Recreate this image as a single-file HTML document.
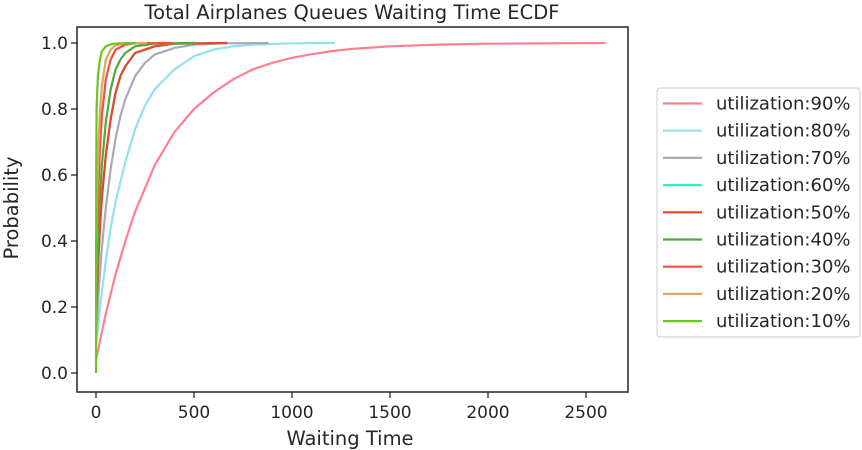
<!DOCTYPE html>
<html><head><meta charset="utf-8"><style>
body{margin:0;background:#fff}
svg{display:block;font-family:"DejaVu Sans","Liberation Sans",sans-serif}
</style></head><body>
<svg id="chart" width="862" height="450">
<rect x="0" y="0" width="862" height="450" fill="#fff"/>
<text x="352" y="19" font-size="19.5" text-anchor="middle" fill="#262626">Total Airplanes Queues Waiting Time ECDF</text>
<g id="axes"></g>
<g id="series"></g>
<rect x="77" y="27" width="551" height="365" fill="none" stroke="#262626" stroke-width="1.5"/>
<text x="350" y="445" font-size="19.5" text-anchor="middle" fill="#262626">Waiting Time</text>
<text x="0" y="0" font-size="19.5" text-anchor="middle" fill="#262626" transform="translate(18,208) rotate(-90)">Probability</text>
<rect x="657" y="88" width="203" height="249" rx="3" fill="#fff" stroke="#ccc" stroke-width="1"/>
<g id="legend"></g>
</svg>
<script>
const labels=["utilization:90%","utilization:80%","utilization:70%","utilization:60%","utilization:50%","utilization:40%","utilization:30%","utilization:20%","utilization:10%"];
const colors=["#ff7f91","#8ee3ef","#aba8b8","#3fe8c0","#e8452a","#52a83f","#f4503a","#dba95e","#6cc524"];
const x90=[0,50,100,150,200,250,300,400,500,600,700,800,900,1000,1100,1200,1300,1500,1750,2000,2600];
const y90=[0.04,0.18,0.30,0.40,0.49,0.56,0.63,0.73,0.80,0.85,0.89,0.92,0.94,0.955,0.966,0.975,0.982,0.99,0.995,0.998,1.0];
const x80=[0,25,50,75,100,150,200,250,300,400,500,600,700,800,1000,1220];
const y80=[0.08,0.22,0.34,0.44,0.52,0.64,0.74,0.81,0.86,0.92,0.96,0.98,0.99,0.995,0.999,1];
const x70=[0,15,30,50,75,100,125,150,200,250,300,400,500,650,880];
const y70=[0.1,0.26,0.38,0.50,0.62,0.71,0.78,0.83,0.90,0.94,0.965,0.985,0.995,0.999,1];
const x60=[0,10,20,30,50,75,100,125,150,200,300,400,670];
const y60=[0.15,0.32,0.44,0.53,0.66,0.77,0.85,0.90,0.93,0.97,0.99,0.998,1];
const x50=[0,10,20,30,50,75,100,125,150,200,300,400,670];
const y50=[0.15,0.32,0.44,0.53,0.66,0.77,0.85,0.90,0.93,0.97,0.99,0.998,1];
const x40=[0,10,20,30,50,75,100,125,150,200,300,505];
const y40=[0.2,0.40,0.53,0.63,0.76,0.86,0.92,0.95,0.97,0.99,0.998,1];
const x30=[0,5,10,20,30,50,75,100,150,200,390];
const y30=[0.25,0.42,0.53,0.68,0.78,0.89,0.95,0.98,0.995,0.999,1];
const x20=[0,5,10,20,30,50,75,100,150,260];
const y20=[0.3,0.52,0.64,0.79,0.87,0.95,0.98,0.993,0.999,1];
const x10=[0,1,3,6,10,20,30,50,80,120,200];
const y10=[0,0.6,0.8,0.85,0.9,0.95,0.975,0.99,0.997,0.999,1];
const xTicks=[0,500,1000,1500,2000,2500];
const yTicks=[0,0.2,0.4,0.6,0.8,1.0];
const seriesX=[x90,x80,x70,x60,x50,x40,x30,x20,x10];
const seriesY=[y90,y80,y70,y60,y50,y40,y30,y20,y10];
const NS="http://www.w3.org/2000/svg";
const sx=v=>96+v*(490/2500);
const sy=v=>373-v*330;
const axes=document.getElementById('axes');
xTicks.forEach(t=>{
  const l=document.createElementNS(NS,'line');
  l.setAttribute('x1',sx(t));l.setAttribute('x2',sx(t));l.setAttribute('y1',392);l.setAttribute('y2',398);
  l.setAttribute('stroke','#262626');l.setAttribute('stroke-width','1.3');
  
  
  axes.appendChild(l);
  const tx=document.createElementNS(NS,'text');
  tx.setAttribute('x',sx(t));tx.setAttribute('y',418);tx.setAttribute('font-size','17');tx.setAttribute('text-anchor','middle');tx.setAttribute('fill','#262626');
  tx.textContent=t;
  
  
  axes.appendChild(tx);
});
yTicks.forEach(t=>{
  const l=document.createElementNS(NS,'line');
  l.setAttribute('x1',71);l.setAttribute('x2',77);l.setAttribute('y1',sy(t));l.setAttribute('y2',sy(t));
  l.setAttribute('stroke','#262626');l.setAttribute('stroke-width','1.3');
  
  
  axes.appendChild(l);
  const tx=document.createElementNS(NS,'text');
  tx.setAttribute('x',68);tx.setAttribute('y',sy(t)+6);tx.setAttribute('font-size','17');tx.setAttribute('text-anchor','end');tx.setAttribute('fill','#262626');
  tx.textContent=t.toFixed(1);
  
  
  axes.appendChild(tx);
});
const sg=document.getElementById('series');
seriesX.forEach((xs,i)=>{
  const p=document.createElementNS(NS,'path');
  let d='';
  xs.forEach((x,j)=>{d+=(j?'L':'M')+sx(x).toFixed(2)+','+sy(seriesY[i][j]).toFixed(2);});
  p.setAttribute('d',d);p.setAttribute('fill','none');p.setAttribute('stroke',colors[i]);p.setAttribute('stroke-width','2.2');p.setAttribute('stroke-linejoin','round');
  
  
  sg.appendChild(p);
});
const lg=document.getElementById('legend');
labels.forEach((lab,i)=>{
  const y=103.5+i*27.2;
  const l=document.createElementNS(NS,'line');
  l.setAttribute('x1',663);l.setAttribute('x2',702);l.setAttribute('y1',y);l.setAttribute('y2',y);
  l.setAttribute('stroke',colors[i]);l.setAttribute('stroke-width','2.2');
  
  
  lg.appendChild(l);
  const t=document.createElementNS(NS,'text');
  t.setAttribute('x',716);t.setAttribute('y',y+6);t.setAttribute('font-size','18');t.setAttribute('fill','#262626');
  t.textContent=lab;
  
  
  lg.appendChild(t);
});
</script>
</body></html>
